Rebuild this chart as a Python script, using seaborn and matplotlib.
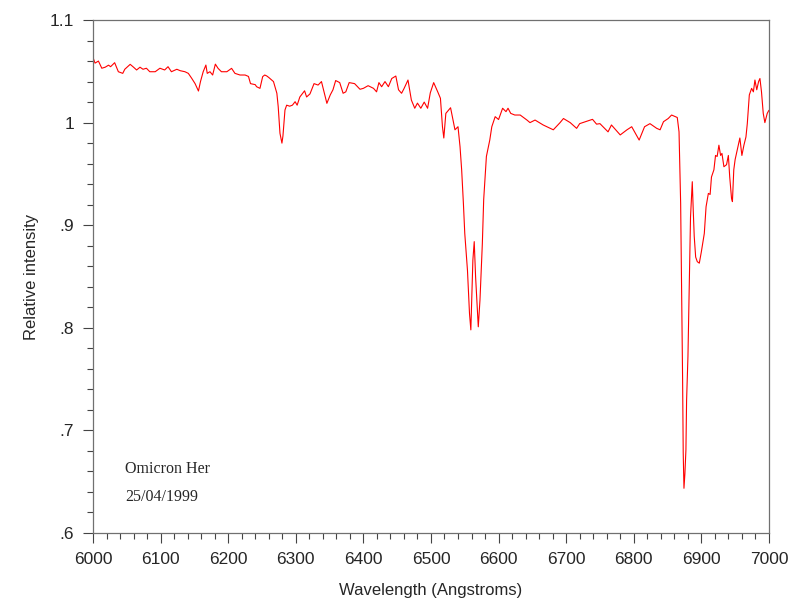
import numpy as np
import pandas as pd
import seaborn as sns
import matplotlib.pyplot as plt
from matplotlib.ticker import MultipleLocator, FuncFormatter

# wavelength (Angstroms) and relative intensity
wavelength = [
    6000.4, 6003, 6008, 6013, 6018, 6023, 6026, 6032, 6037.5, 6044, 6047, 6055,
    6060, 6064.5, 6069.5, 6074, 6079, 6084, 6092, 6099, 6106, 6111, 6116, 6124,
    6129, 6136, 6141, 6146, 6151, 6156, 6159, 6163, 6167, 6169, 6173, 6177,
    6181, 6185, 6190, 6198, 6205, 6210, 6217.5, 6225, 6230, 6233, 6240, 6242,
    6247, 6251, 6254, 6257, 6260, 6267, 6272, 6274, 6276.6, 6279.5, 6281, 6284,
    6286.5, 6291, 6295, 6299, 6302, 6306, 6313, 6316, 6321, 6327, 6333, 6338,
    6346, 6351, 6355, 6359, 6365, 6370, 6374, 6379, 6387, 6395, 6400, 6407,
    6415, 6419.5, 6423, 6427, 6432, 6437, 6442, 6448, 6452, 6456.5, 6460, 6466,
    6471, 6476, 6480, 6485, 6490, 6495, 6499, 6504, 6510, 6514, 6517, 6519,
    6522, 6529, 6535.5, 6540, 6543, 6545.4, 6548, 6550, 6554, 6557, 6559, 6562,
    6564, 6566, 6570, 6572.5, 6576, 6578, 6582, 6587, 6590, 6595, 6600, 6606,
    6611, 6614, 6618, 6624, 6632, 6642, 6646.5, 6654, 6666, 6681, 6691, 6696,
    6706, 6715.5, 6720, 6739, 6745, 6750, 6762, 6767, 6780, 6790, 6797, 6808,
    6816, 6824, 6834, 6839, 6844, 6851, 6856, 6864.4, 6867, 6869.4, 6871, 6872.3,
    6873.2, 6874.3, 6875.7, 6877.2, 6878.2, 6880.2, 6882, 6884, 6886.6, 6888,
    6889.5, 6891.6, 6894, 6897, 6900, 6904.4, 6907, 6910.4, 6913, 6915, 6918.6,
    6921, 6923.4, 6926, 6928.5, 6930.5, 6933.4, 6937.3, 6940, 6942, 6944.7,
    6946, 6948, 6950, 6953, 6957, 6960, 6963, 6966, 6968, 6971, 6974.4, 6977,
    6979.3, 6982, 6984.7, 6986.7, 6989, 6991.6, 6994, 6997.5, 7000,
]
intensity = [
    1.0627, 1.058, 1.060, 1.053, 1.054, 1.056, 1.0545, 1.0584, 1.0496, 1.048, 1.052, 1.0568,
    1.054, 1.0513, 1.054, 1.052, 1.053, 1.0496, 1.0496, 1.053, 1.0513, 1.0545, 1.0496, 1.052,
    1.0506, 1.0496, 1.048, 1.0432, 1.038, 1.0308, 1.04, 1.0496, 1.0561, 1.048, 1.0496, 1.0464,
    1.057, 1.0529, 1.0496, 1.0496, 1.0529, 1.048, 1.0464, 1.0464, 1.045, 1.038, 1.037, 1.035,
    1.0334, 1.0448, 1.0464, 1.0455, 1.044, 1.04, 1.0286, 1.0155, 0.9896, 0.980, 0.987, 1.0123,
    1.017, 1.016, 1.017, 1.0204, 1.017, 1.025, 1.031, 1.025, 1.028, 1.038, 1.0366, 1.040,
    1.0188, 1.027, 1.032, 1.041, 1.039, 1.0286, 1.030, 1.039, 1.038, 1.0325, 1.0334, 1.036,
    1.0334, 1.030, 1.039, 1.035, 1.040, 1.035, 1.043, 1.0454, 1.032, 1.0286, 1.033, 1.0415,
    1.022, 1.014, 1.019, 1.014, 1.020, 1.014, 1.029, 1.039, 1.030, 1.0237, 0.996, 0.985,
    1.009, 1.0145, 0.993, 0.996, 0.9765, 0.954, 0.921, 0.892, 0.856, 0.814, 0.798, 0.866,
    0.884, 0.850, 0.801, 0.827, 0.882, 0.925, 0.967, 0.983, 0.996, 1.0058, 1.003, 1.014,
    1.0107, 1.014, 1.009, 1.0074, 1.0074, 1.0025, 1.000, 1.0025, 0.9977, 0.993, 1.000, 1.004,
    1.000, 0.9944, 0.999, 1.0032, 0.9985, 0.999, 0.991, 0.9977, 0.988, 0.993, 0.996, 0.983,
    0.996, 0.999, 0.9944, 0.993, 1.0009, 1.004, 1.0074, 1.005, 0.991, 0.9213, 0.830, 0.749,
    0.678, 0.6436, 0.658, 0.681, 0.7296, 0.772, 0.837, 0.908, 0.9424, 0.915,
    0.889, 0.869, 0.8645, 0.863, 0.874, 0.892, 0.918, 0.931, 0.930, 0.947, 0.954,
    0.968, 0.967, 0.978, 0.968, 0.970, 0.957, 0.959, 0.968, 0.947, 0.926,
    0.923, 0.954, 0.964, 0.973, 0.985, 0.968, 0.978, 0.986, 0.999, 1.027, 1.0334, 1.030,
    1.0415, 1.032, 1.040, 1.043, 1.030, 1.009, 1.000, 1.009, 1.012,
]
star_name = 'Omicron Her'
obs_date = '25/04/1999'

df = pd.DataFrame({'wl': wavelength, 'rel': intensity})

sns.set_style('ticks')
plt.rcParams['font.family'] = ['Liberation Sans', 'DejaVu Sans']

fig = plt.figure(figsize=(8.06, 6.14), dpi=100)
ax = fig.add_axes([0.1154, 0.1319, 0.8386, 0.8355])

sns.lineplot(data=df, x='wl', y='rel', color='#ff0000', linewidth=0.8, ax=ax,
             sort=False, estimator=None)

ax.set_xlim(6000, 7000)
ax.set_ylim(0.6, 1.1)
ax.xaxis.set_major_locator(MultipleLocator(100))
ax.xaxis.set_minor_locator(MultipleLocator(20))
ax.yaxis.set_major_locator(MultipleLocator(0.1))
ax.yaxis.set_minor_locator(MultipleLocator(0.02))


def fmt_y(v, pos):
    s = ('%.1f' % v)
    if s.endswith('.0'):
        s = s[:-2]
    if s.startswith('0'):
        s = s[1:]
    return s


ax.yaxis.set_major_formatter(FuncFormatter(fmt_y))
ax.tick_params(which='major', length=7.5, width=0.8, color='#444444', labelsize=12.5, pad=6)
ax.tick_params(which='minor', length=4.3, width=0.8, color='#444444')
for sp in ax.spines.values():
    sp.set_visible(True)
    sp.set_color('#707070')
    sp.set_linewidth(0.9)

ax.set_xlabel('Wavelength (Angstroms)', fontsize=12, labelpad=12)
ax.set_ylabel('Relative intensity', fontsize=12, labelpad=8)

ax.text(0.047, 0.125, star_name, transform=ax.transAxes, fontsize=11.5,
        family='Liberation Serif', va='center')
ax.text(0.047, 0.07, obs_date, transform=ax.transAxes, fontsize=11.5,
        family='Liberation Serif', va='center')

fig.savefig('out.png', dpi=100)
